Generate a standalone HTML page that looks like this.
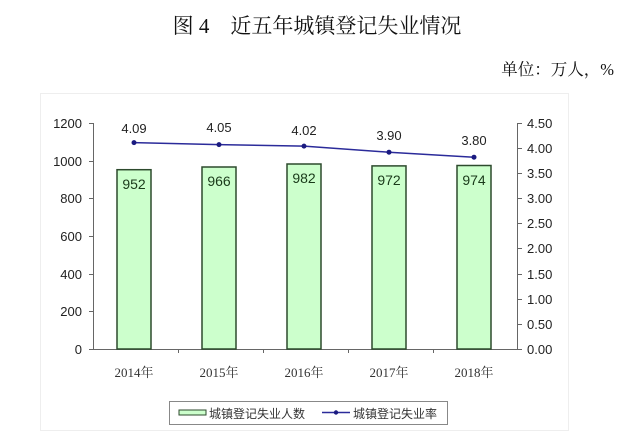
<!DOCTYPE html>
<html><head><meta charset="utf-8"><style>
body{margin:0;background:#fff;width:639px;height:436px;overflow:hidden}
</style></head><body>
<svg width="639" height="436" xmlns="http://www.w3.org/2000/svg" font-family="Liberation Sans, sans-serif">
<text x="317" y="33" text-anchor="middle" font-family="Liberation Serif, Noto Serif CJK SC, serif" font-size="21" fill="#111">图 4　近五年城镇登记失业情况</text>
<text x="614" y="75" text-anchor="end" font-family="Liberation Serif, Noto Serif CJK SC, serif" font-size="16.5" fill="#111">单位：万人，%</text>
<rect x="40.5" y="93.5" width="528" height="337" fill="none" stroke="#eeeeee"/>
<g stroke="#666" stroke-width="1">
<line x1="93.5" y1="123" x2="93.5" y2="349"/>
<line x1="517.5" y1="123" x2="517.5" y2="349"/>
<line x1="93" y1="349.5" x2="518" y2="349.5"/>
<line x1="89" y1="123.5" x2="93" y2="123.5"/><line x1="89" y1="161.5" x2="93" y2="161.5"/><line x1="89" y1="198.5" x2="93" y2="198.5"/><line x1="89" y1="236.5" x2="93" y2="236.5"/><line x1="89" y1="274.5" x2="93" y2="274.5"/><line x1="89" y1="311.5" x2="93" y2="311.5"/><line x1="89" y1="349.5" x2="93" y2="349.5"/>
<line x1="518" y1="123.5" x2="522" y2="123.5"/><line x1="518" y1="148.5" x2="522" y2="148.5"/><line x1="518" y1="173.5" x2="522" y2="173.5"/><line x1="518" y1="198.5" x2="522" y2="198.5"/><line x1="518" y1="223.5" x2="522" y2="223.5"/><line x1="518" y1="248.5" x2="522" y2="248.5"/><line x1="518" y1="274.5" x2="522" y2="274.5"/><line x1="518" y1="299.5" x2="522" y2="299.5"/><line x1="518" y1="324.5" x2="522" y2="324.5"/><line x1="518" y1="349.5" x2="522" y2="349.5"/>
<line x1="178.5" y1="349" x2="178.5" y2="353"/><line x1="263.5" y1="349" x2="263.5" y2="353"/><line x1="348.5" y1="349" x2="348.5" y2="353"/><line x1="433.5" y1="349" x2="433.5" y2="353"/>
</g>
<g font-size="13" fill="#222" text-anchor="end">
<text x="82" y="128">1200</text><text x="82" y="166">1000</text><text x="82" y="203">800</text><text x="82" y="241">600</text><text x="82" y="279">400</text><text x="82" y="316">200</text><text x="82" y="354">0</text>
</g>
<g font-size="13" fill="#222">
<text x="527" y="128">4.50</text><text x="527" y="153">4.00</text><text x="527" y="178">3.50</text><text x="527" y="203">3.00</text><text x="527" y="228">2.50</text><text x="527" y="253">2.00</text><text x="527" y="279">1.50</text><text x="527" y="304">1.00</text><text x="527" y="329">0.50</text><text x="527" y="354">0.00</text>
</g>
<g fill="#ccffcc" stroke="#2d4a2d" stroke-width="1.5">
<rect x="117" y="169.7" width="34" height="179.3"/>
<rect x="202" y="167" width="34" height="182"/>
<rect x="287" y="164" width="34" height="185"/>
<rect x="372" y="165.9" width="34" height="183.1"/>
<rect x="457" y="165.5" width="34" height="183.5"/>
</g>
<g font-size="14" fill="#1a3a1a" text-anchor="middle">
<text x="134" y="189">952</text><text x="219" y="186">966</text><text x="304" y="183">982</text><text x="389" y="185">972</text><text x="474" y="185">974</text>
</g>
<polyline points="134,142.6 219,144.6 304,146.1 389,152.2 474,157.2" fill="none" stroke="#2b2b9a" stroke-width="1.5"/>
<g fill="#1a1a80"><circle cx="134" cy="142.6" r="2.5"/><circle cx="219" cy="144.6" r="2.5"/><circle cx="304" cy="146.1" r="2.5"/><circle cx="389" cy="152.2" r="2.5"/><circle cx="474" cy="157.2" r="2.5"/></g>
<g font-size="13" fill="#222" text-anchor="middle">
<text x="134" y="133">4.09</text><text x="219" y="132">4.05</text><text x="304" y="135">4.02</text><text x="389" y="140">3.90</text><text x="474" y="145">3.80</text>
</g>
<g font-size="13" fill="#333" text-anchor="middle" font-family="Liberation Serif, Noto Serif CJK SC, serif">
<text x="134" y="377">2014年</text><text x="219" y="377">2015年</text><text x="304" y="377">2016年</text><text x="389" y="377">2017年</text><text x="474" y="377">2018年</text>
</g>
<rect x="169.5" y="401.5" width="278" height="23" fill="#fff" stroke="#888"/>
<rect x="179" y="410" width="27" height="5" fill="#ccffcc" stroke="#2d4a2d"/>
<text x="209" y="418" font-size="12" fill="#333" font-family="Liberation Sans, Noto Sans CJK SC, sans-serif">城镇登记失业人数</text>
<line x1="322" y1="412.5" x2="350" y2="412.5" stroke="#2b2b9a" stroke-width="1.5"/>
<circle cx="336" cy="412.5" r="2.2" fill="#1a1a80"/>
<text x="353" y="418" font-size="12" fill="#333" font-family="Liberation Sans, Noto Sans CJK SC, sans-serif">城镇登记失业率</text>
</svg>
</body></html>
